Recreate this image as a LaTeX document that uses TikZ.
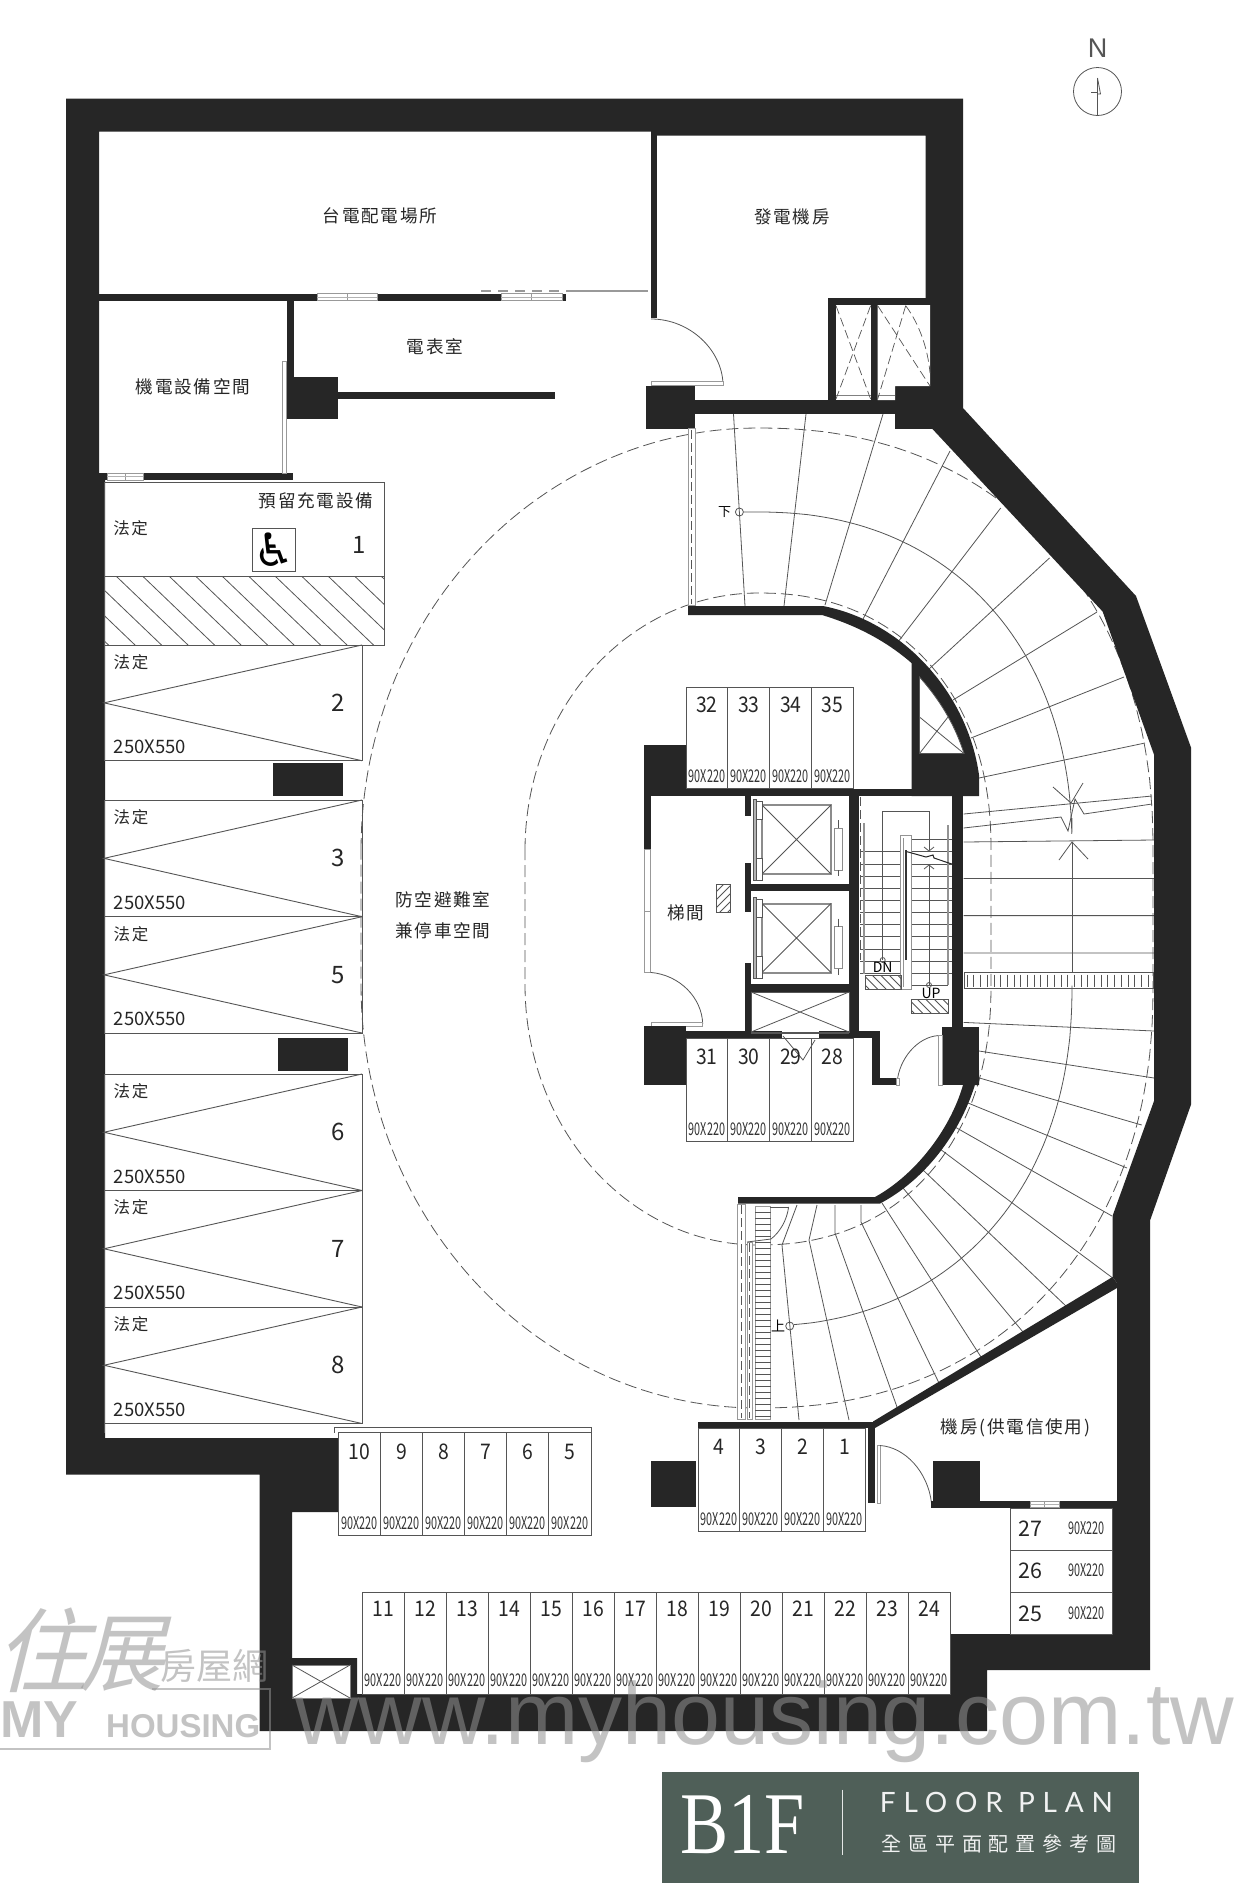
\documentclass[tikz,border=0pt]{standalone}
\usepackage{fontspec}
\usepackage{graphicx}
\usetikzlibrary{calc}
\setmainfont{Noto Sans CJK TC}
\newfontfamily\cjk{Noto Sans CJK TC}
\newfontfamily\cjkwide[LetterSpace=10]{Noto Sans CJK TC}
\newfontfamily\cjktitle[LetterSpace=34]{Noto Sans CJK TC}
\newfontfamily\latotitle[LetterSpace=28]{Lato}
\newfontfamily\symfont{DejaVu Sans}
\newfontfamily\arialfont{Liberation Sans}
\newfontfamily\timesfont{Liberation Serif}
\definecolor{wallc}{HTML}{262626}
\definecolor{linec}{HTML}{555555}
\definecolor{titlec}{HTML}{4F5F58}
\tikzset{
  x=1pt,y=-1pt,
  wallfill/.style={fill=wallc,draw=none},
  thinl/.style={draw=linec,line width=0.8pt},
  spotline/.style={draw=linec,line width=0.9pt},
  dashl/.style={draw=linec,line width=0.8pt,dash pattern=on 12pt off 5pt},
  winl/.style={draw=gray!80,fill=white,line width=0.8pt},
  roomtext/.style={inner sep=0pt,font=\cjkwide\fontsize{17.6}{20}\selectfont,text=black!85},
  tagtext/.style={inner sep=0pt,font=\cjkwide\fontsize{16.5}{20}\selectfont,text=black!85},
  bignum/.style={inner sep=0pt,font=\cjk\fontsize{24}{25}\selectfont,text=black!85},
  numtext/.style={inner sep=0pt,font=\cjk\fontsize{21.5}{22}\selectfont,text=black!85},
  dimtext/.style={inner sep=0pt,font=\cjk\fontsize{17.5}{18}\selectfont,text=black!80},
  widetext/.style={inner sep=0pt,font=\cjk\fontsize{18.5}{20}\selectfont,text=black!85},
  wmark/.style={inner sep=0pt,text=gray!85,text opacity=0.55},
}
\newcommand\dimlab[1]{\scalebox{.62}[1]{#1}}
\newcommand\numlab[1]{\scalebox{.9}[1]{#1}}
\newcommand\cellrow[7]{%
  \foreach \n [count=\i from 0] in {#7} {
    \pgfmathsetmacro\xa{#1+\i*#2}
    \pgfmathsetmacro\xb{\xa+#2}
    \pgfmathsetmacro\xc{\xa+#2/2}
    \draw[spotline] (\xa,#3) rectangle (\xb,#4);
    \node[numtext] at (\xc,#5) {\numlab{\n}};
    \node[dimtext] at (\xc,#6) {\dimlab{90X220}};
  }}
\newcommand\carspot[3]{%
  \pgfmathsetmacro\midy{(#1+#2)/2}
  \draw[spotline] (104,#1) rectangle (362,#2);
  \draw[spotline] (362,#1) -- (104,\midy) -- (362,#2);
  \node[tagtext] at (131,#1+17) {法定};
  \node[widetext] at (150,#2-14) {250X550};
  \node[bignum] at (338,\midy) {#3};
}
\newcommand\windowh[3]{% x1 x2 y centre
  \draw[winl] (#1,#3-3.4) rectangle (#2,#3+3.4);
  \draw[gray!80,line width=.6pt] ({(#1+#2)/2},#3-3.4) -- ({(#1+#2)/2},#3+3.4);
  \draw[gray!60,line width=.5pt] (#1,#3) -- (#2,#3);
}
\newcommand\elevator[1]{% y offset
  \begin{scope}[shift={(0,#1)}]
    \draw[draw=gray!90,line width=2pt] (762,805) rectangle (831,874);
    \draw[thinl] (762,805) -- (831,874) (831,805) -- (762,874);
    \draw[draw=linec,fill=gray!60,line width=.6pt] (753,799) rectangle (756,880);
    \draw[draw=linec,fill=white,line width=.6pt] (756,801) rectangle (762,819);
    \draw[draw=linec,fill=white,line width=.6pt] (756,858) rectangle (762,880);
    \draw[draw=gray!90,fill=white,line width=.8pt] (834,828) rectangle (842.5,870);
    \draw[thinl] (838,820) -- (838,828) (838,870) -- (838,876);
  \end{scope}
}
\begin{document}
\begin{tikzpicture}
\useasboundingbox (0,0) rectangle (1238,1888);
\fill[white] (0,0) rectangle (1238,1888);

% ---------- ramp: dashed limits, mid line, radial treads
\draw[dashl] plot[domain=-180:-90,samples=60] ({757+396*cos(\x)},{850+422*sin(\x)})
  -- plot[domain=89.95:0.05,samples=70] ({757+396*cos(\x)^0.909},{850-422*sin(\x)^0.909})
  -- plot[domain=0.05:89.95,samples=70] ({757+396*cos(\x)^0.909},{985+423*sin(\x)^0.909})
  -- plot[domain=90:180,samples=60] ({757+396*cos(\x)},{985+423*sin(\x)}) -- cycle;
\draw[dashl] plot[domain=-180:-90,samples=50] ({758+233*cos(\x)},{850+257*sin(\x)})
  -- plot[domain=89.95:0.05,samples=60] ({758+233*cos(\x)^0.909},{850-257*sin(\x)^0.909})
  -- plot[domain=0.05:89.95,samples=60] ({758+233*cos(\x)^0.909},{985+260*sin(\x)^0.909})
  -- plot[domain=90:180,samples=50] ({758+233*cos(\x)},{985+260*sin(\x)}) -- cycle;
\draw[thinl] (743.5,512) -- (757,512) -- plot[domain=89.95:2,samples=60] ({757+315*cos(\x)^0.909},{850-338*sin(\x)^0.909}) -- (1072,818);
\draw[thinl] (1072,842) -- (1072,972);
\draw[thinl] (1072,988) -- plot[domain=0.05:84.6,samples=60] ({757+315*cos(\x)^0.909},{985+341*sin(\x)^0.909});
\draw[thinl] (739.4,512) circle (4);
\draw[thinl] (789.7,1326) circle (4);
\node[inner sep=0pt,font=\cjk\fontsize{13}{14}\selectfont] at (724.5,512) {下};
\node[inner sep=0pt,font=\cjk\fontsize{14}{14}\selectfont] at (778,1326) {上};
% top radials
\draw[thinl] (733.5,414)--(745,606) (806,414)--(784,606) (883,414)--(825,605)
  (950,451)--(862,621) (1000.7,508)--(898,642) (1049.5,558)--(929,669)
  (1097,612)--(953,700) (1124,677)--(971,738) (1145,743)--(979,778);
\draw[thinl] (963.6,814)--(1152,796);
\draw[thinl] (963.6,828)--(1061,817)--(1068,831)--(1075,799)--(1084,814)--(1152,804);
\draw[thinl] (963.6,842)--(1154,840) (963.6,878.5)--(1154,878.5) (963.6,915.6)--(1154,915.6) (963.6,953)--(1154,953);
\draw[thinl] (1053,787)--(1071,803)--(1083,783) (1059,860)--(1072,842)--(1088,859);
% band
\draw[draw=linec,line width=1pt] (964,972.5) rectangle (1153,988.5);
\foreach \bx in {967,973.7,...,1150} {\draw[draw=linec,line width=.6pt] (\bx,974.5)--(\bx,986.5);}
% bottom radials
\draw[thinl] (963.6,1022.4)--(1154,1031) (979,1051)--(1154,1078) (976,1077)--(1141.7,1125)
  (968,1103)--(1127,1168) (955,1127)--(1112,1216) (940,1149)--(1112.7,1278)
  (923,1170)--(1067,1307) (903,1188)--(1023,1332) (882,1203)--(981,1357)
  (861,1205)--(861,1222)--(939,1383) (835,1205)--(835,1233)--(897,1407)
  (817,1205)--(809,1240)--(849,1420) (797,1205)--(782,1245)--(799,1420);

% ---------- outer shell
\fill[wallc,even odd rule]
  (66,98.5)--(963,98.5)--(963,408)--(1136,596)--(1191,747.5)--(1191,1104.6)--(1150,1220.6)
  --(1150,1670)--(987,1670)--(987,1731)--(259.5,1731)--(259.5,1474.6)--(66,1474.6)--cycle
  (99,131.5)--(651,131.5)--(651,135.7)--(925.7,135.7)--(925.7,428.5)--(932,428.5)--(1102.6,611.5)
  --(1154,754.6)--(1154,1101)--(1112.5,1216)--(1112.5,1277)--(1117,1283)--(1117,1500.6)--(1112.5,1508)
  --(1112.5,1634)--(950,1634)--(950,1694)--(357,1694)--(357,1658)--(292,1658)--(292,1512)--(338,1512)
  --(338,1438)--(105,1438)--(105,480)--(99,480)--cycle;

% ---------- upper-left rooms
\fill[wallfill] (99,293.6) rectangle (566,300.5);
\windowh{317}{377}{297}
\windowh{501}{562}{297}
\fill[wallfill] (286.5,300) rectangle (294,380);
\fill[wallfill] (286,377) rectangle (338,419);
\fill[wallfill] (338,392) rectangle (555,398.6);
\fill[wallfill] (99,473) rectangle (293,480);
\windowh{107}{143}{476.5}
\draw[winl] (282,361) rectangle (286,473);
\draw[draw=white,line width=1.2pt,dash pattern=on 8pt off 6pt] (284,362)--(284,414);
\draw[draw=gray!80,line width=1.4pt,dash pattern=on 10pt off 7pt] (481,291)--(567,291);
\draw[draw=gray!80,line width=1.2pt] (567,291)--(648,291);
% wall to generator room
\fill[wallfill] (651,131) rectangle (657.4,317.5);
\draw[thinl] (651,319) .. controls (690,319) and (722,350) .. (723,384);
\draw[winl] (651.5,381) rectangle (723,385);
\fill[wallfill] (645.6,386) rectangle (695,428.5);
\fill[wallfill] (695,400) rectangle (896,414);
% shafts
\fill[wallfill] (828.4,298.4) rectangle (930,414);
\fill[wallfill] (895,386) rectangle (932,428.5);
\fill[white] (836,305) rectangle (870.6,400);
\fill[white] (877.7,305) -- (930,305) -- (930,386) -- (895,386) -- (895,400) -- (877.7,400) -- cycle;
\draw[draw=gray,line width=.7pt] (836,395.5)--(870.6,395.5) (877.7,395.5)--(895,395.5);
\begin{scope}[draw=linec,line width=.7pt,dash pattern=on 9pt off 4pt]
  \draw (836,305.7)--(870.6,399) (870.6,305.7)--(836,399);
  \draw (877.7,305.7)--(930,386) (905.7,305.7)--(877.7,399);
  \draw (905.7,305.7) .. controls (920,325) and (928,350) .. (930,373);
\end{scope}

% ---------- ramp strip (top)
\draw[winl] (688,428.5) rectangle (695,605);
\draw[draw=linec,line width=.7pt,dash pattern=on 9pt off 4pt] (691.5,430)--(691.5,604);

% ---------- inner curved wall (top)
\fill[wallfill] (688,606) -- (823,606) .. controls (905,622) and (968,695) .. (979,775)
  -- (979,796) -- (911.5,796) -- (911.5,663) .. controls (885,640) and (855,625) .. (822,615) -- (688,615) -- cycle;
\fill[white] (919.5,677) .. controls (940,700) and (955,725) .. (964,753.5) -- (919.5,753.5) -- cycle;
\draw[thinl] (919.5,677) .. controls (940,700) and (955,725) .. (964,753.5) -- (919.5,753.5) -- cycle;
\draw[thinl] (919.5,753.5)--(948,717) (919.5,717)--(964,753.5);

% ---------- core walls
\fill[wallfill] (644.4,745) rectangle (686,795.7);
\fill[wallfill] (644.4,788.5) rectangle (979,795.7);
\fill[wallfill] (644.4,790) rectangle (650.7,848.5);
\draw[winl] (644.4,849) rectangle (650.7,972);
\draw[gray!80,line width=.6pt] (644.4,911)--(650.7,911);
\draw[thinl] (650.7,972.4) .. controls (680,975) and (702,998) .. (702.7,1024);
\draw[winl] (651,1022) rectangle (702.7,1026);
\fill[wallfill] (644.4,1026) rectangle (686,1085);
\fill[wallfill] (650.7,1031) rectangle (880,1038);
\fill[wallfill] (744.5,795.7) rectangle (751,816.4);
\fill[wallfill] (744.5,863) rectangle (751,912);
\fill[wallfill] (744.5,963) rectangle (751,1031);
\fill[wallfill] (751,884) rectangle (849,891);
\fill[wallfill] (751,984) rectangle (849,992);
\fill[wallfill] (849,795.7) rectangle (859,1031);
\fill[wallfill] (952,795.7) rectangle (963,1026.6);
\fill[wallfill] (942,1026.6) rectangle (979,1085);
\fill[wallfill] (872,1031) rectangle (880,1085);
\fill[wallfill] (872,1078) rectangle (896,1085);
% door to shaft
\fill[white] (782,1031) rectangle (819,1038);
\draw[thinl] (751,1033)--(849,1033);
\draw[thinl] (783,1036)--(803,1060)--(815,1040);
% elevator shaft below
\draw[thinl] (751,992) rectangle (849,1032);
\draw[thinl] (751,992)--(849,1032) (849,992)--(751,1032);
\elevator{0}
\elevator{98.5}
% hatch
\draw[thinl] (716.5,884) rectangle (730,912);
\begin{scope}
  \clip (716.5,884) rectangle (730,912);
  \foreach \h in {892,900,908,916,924} {\draw[thinl] (716,\h)--(731,\h-15);}
\end{scope}
\node[roomtext] at (686,913) {梯間};

% ---------- stair
\foreach \ty in {851.7,864,876,888.3,900.3,912.7,924.7,936.7,949,961,973} {\draw[thinl] (860,\ty)--(951.5,\ty);}
\draw[thinl] (911.7,839.7)--(951.5,839.7) (911.7,985)--(948,985);
\draw[draw=gray!85,fill=white,line width=.9pt] (900.7,835.7) rectangle (911.7,989);
\draw[draw=black!80,line width=1.6pt] (906.2,850)--(906.2,960);
\draw[draw=gray!85,line width=.6pt] (903,838)--(903,987);
\draw[draw=gray!85,line width=2pt] (864,823)--(864,974);
\draw[draw=gray!85,line width=2pt] (948,825)--(948,985);
\draw[draw=linec,line width=.7pt,dash pattern=on 9pt off 4pt] (860.5,797)--(860.5,960);
\draw[thinl] (882.7,960)--(882.7,811.7)--(929,811.7)--(929,850);
\draw[thinl] (929,985)--(929,865);
\draw[thinl] (924,847)--(929,851)--(934,847) (924,869)--(929,865)--(934,869);
\draw[draw=black!85,line width=1pt] (907,851.7)--(926,857)--(933,855)--(934,858)--(951.7,864);
\draw[thinl] (882.7,960) circle (2.5);
\draw[thinl] (929,985) circle (2.5);
\node[inner sep=0pt,font=\cjk\fontsize{14}{14}\selectfont] at (882.7,967.7) {DN};
\node[inner sep=0pt,font=\cjk\fontsize{14}{14}\selectfont] at (931,993) {UP};
\draw[thinl] (865,975) rectangle (901.7,989);
\draw[thinl] (911.7,999) rectangle (948.3,1013);
\begin{scope}
  \clip (865,975) rectangle (901.7,989);
  \foreach \h in {855,863.5,...,905} {\draw[thinl] (\h,975)--(\h+14,989);}
\end{scope}
\begin{scope}
  \clip (911.7,999) rectangle (948.3,1013);
  \foreach \h in {900,908.5,...,950} {\draw[thinl] (\h,999)--(\h+14,1013);}
\end{scope}
% stair door
\draw[thinl] (897,1083) .. controls (899,1058) and (918,1037) .. (938,1035.6);
\draw[winl] (938,1035) rectangle (942,1085);
\draw[winl] (896,1078) rectangle (899,1085);

% ---------- inner curved wall (bottom)
\fill[wallfill] (738,1197) -- (875,1197) .. controls (915,1175) and (950,1130) .. (963,1085)
  -- (979,1085) -- (979,1070) .. controls (965,1130) and (925,1180) .. (880,1203.5) -- (738,1203.5) -- cycle;

% ---------- bottom ramp strips
\draw[winl] (737,1204) rectangle (745,1419);
\draw[draw=linec,line width=.7pt,dash pattern=on 9pt off 4pt] (741,1205)--(741,1418);
\draw[winl] (747,1242) rectangle (752,1419);
\draw[draw=linec,line width=.7pt,dash pattern=on 9pt off 4pt] (749.5,1243)--(749.5,1418);
\draw[winl] (755.4,1206) rectangle (770.7,1419);
\foreach \ry in {1212,1218,...,1416} {\draw[draw=linec,line width=.5pt] (755.4,\ry)--(770.7,\ry);}
\draw[thinl] (747,1242)--(771,1239) .. controls (780,1232) and (787,1220) .. (788.6,1207);
\draw[thinl] (770,1207)--(789,1207);

% ---------- machine room
\fill[wallfill] (1112.5,1277) -- (1117,1283) -- (1117,1288) -- (875,1428) -- (873,1421.5) -- cycle;
\fill[wallfill] (698,1421.5) rectangle (875,1428);
\fill[wallfill] (868,1428) rectangle (875,1503);
\draw[winl] (877,1445.5) rectangle (880,1503);
\draw[thinl] (880,1445.5) .. controls (905,1447) and (928,1472) .. (931.5,1503);
\fill[wallfill] (651,1461) rectangle (696,1507);
\fill[wallfill] (933,1461) rectangle (980,1507);
\fill[wallfill] (931,1500.6) rectangle (1117,1508);
\windowh{1030}{1059}{1504.3}

% ---------- small shaft bottom left
\fill[white] (292,1665) rectangle (350,1698);
\draw[thinl,draw=gray] (292,1665) rectangle (350,1698);
\draw[thinl] (292,1665)--(350,1698) (350,1665)--(292,1698);

% ---------- accessible spot 1
\draw[spotline] (104.5,482) rectangle (384.5,576);
\draw[spotline] (104.5,576) rectangle (384.5,645);
\begin{scope}
  \clip (104.5,576) rectangle (384.5,645);
  \foreach \h in {10,36.5,...,385} {\draw[thinl] (\h,576)--(\h+72,645);}
\end{scope}
\node[tagtext] at (130.6,528) {法定};
\node[roomtext] at (316,501) {預留充電設備};
\node[draw=linec,line width=.7pt,minimum width=43pt,minimum height=43pt,inner sep=0pt] at (274,549.5) {};
\node[inner sep=0pt,font=\symfont\fontsize{46}{46}\selectfont] at (274.5,549.5) {♿};
\node[inner sep=0pt,font=\cjk\fontsize{24}{25}\selectfont,text=black!85] at (359.5,544.5) {1};

% ---------- car spots
\carspot{645}{760.7}{2}
\carspot{800}{916.7}{3}
\carspot{916.7}{1033}{5}
\carspot{1074}{1190.5}{6}
\carspot{1190.5}{1307}{7}
\carspot{1307}{1423.5}{8}
\fill[wallfill] (272.7,763) rectangle (343,795.7);
\fill[wallfill] (277.7,1038) rectangle (348,1071);
\draw[spotline] (104,1433) -- (104,1424);

% ---------- room labels
\node[roomtext] at (380,216) {台電配電場所};
\node[roomtext] at (435,346.5) {電表室};
\node[roomtext] at (193,387) {機電設備空間};
\node[roomtext] at (792,217) {發電機房};
\node[roomtext] at (443,899.5) {防空避難室};
\node[roomtext] at (443,931) {兼停車空間};
\node[roomtext] at (1015.5,1427.5) {機房(供電信使用)};

% ---------- motorbike rows
\cellrow{686}{41.9}{687}{788}{705}{776.5}{32,33,34,35}
\cellrow{686}{41.9}{1038}{1141}{1056.5}{1129}{31,30,29,28}
\cellrow{338.4}{42.1}{1432.5}{1535}{1451.5}{1523.5}{10,9,8,7,6,5}
\draw[spotline] (334,1432.5)--(334,1427.5)--(591,1427.5)--(591,1432.5);
\cellrow{698}{41.9}{1428}{1531}{1447}{1519}{4,3,2,1}
\cellrow{362}{42}{1592}{1694}{1608.5}{1680.5}{11,12,13,14,15,16,17,18,19,20,21,22,23,24}
\draw[spotline] (1010,1508) rectangle (1112.5,1550);
\draw[spotline] (1010,1550) rectangle (1112.5,1592);
\draw[spotline] (1010,1592) rectangle (1112.5,1634);
\node[numtext] at (1030,1529) {27};
\node[numtext] at (1030,1571) {26};
\node[numtext] at (1030,1614) {25};
\node[dimtext] at (1086.5,1528) {\dimlab{90X220}};
\node[dimtext] at (1086.5,1570) {\dimlab{90X220}};
\node[dimtext] at (1086.5,1613) {\dimlab{90X220}};

% ---------- north sign
\node[inner sep=0pt,font=\arialfont\fontsize{27}{28}\selectfont,text=linec] at (1097.5,48.6) {N};
\draw[thinl] (1097.5,91.5) circle (24);
\draw[thinl] (1097.5,78)--(1097.5,115) (1091,92)--(1097.5,92);
\draw[thinl] (1097.5,78)--(1100.5,94)--(1097.5,94);

% ---------- title block
\fill[titlec] (662,1771.5) rectangle (1139,1882.5);
\node[inner sep=0pt,text=white,font=\timesfont\fontsize{88}{88}\selectfont] at (742.5,1824.5) {\scalebox{.82}[1]{B1F}};
\draw[draw=white!85!titlec,line width=.9pt] (842,1789.5)--(842,1855);
\node[inner sep=0pt,text=white!92!titlec,font=\latotitle\fontsize{28}{28}\selectfont] at (996.5,1802) {FLOOR PLAN};
\node[inner sep=0pt,text=white!92!titlec,font=\cjktitle\fontsize{20}{22}\selectfont] at (999,1844) {全區平面配置參考圖};

% ---------- watermark
\node[wmark,anchor=base west,font=\arialfont\fontsize{88}{88}\selectfont] at (295,1744) {www.myhousing.com.tw};
\node[wmark,font=\cjk\fontsize{36}{36}\selectfont] at (214.5,1666) {房屋網};
\node[wmark,font=\cjk\fontsize{92}{92}\selectfont,xslant=.25] at (50,1650) {住};
\node[wmark,font=\cjk\fontsize{85}{85}\selectfont,xslant=.25] at (130,1654) {展};
\node[wmark,anchor=base west,font=\arialfont\bfseries\fontsize{52}{52}\selectfont] at (0,1737) {MY};
\node[wmark,anchor=base west,font=\arialfont\bfseries\fontsize{33}{33}\selectfont] at (106,1737) {HOUSING};
\draw[draw=gray!85,opacity=.55,line width=2pt] (152,1689)--(270,1689)--(270,1748.5)--(0,1748.5);
\end{tikzpicture}
\end{document}
